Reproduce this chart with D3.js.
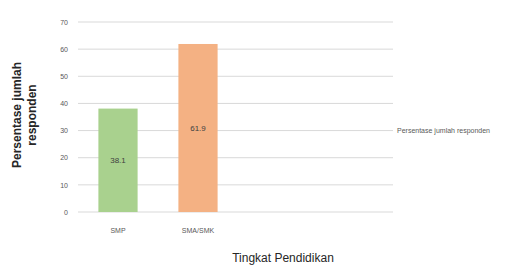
<!DOCTYPE html>
<html><head><meta charset="utf-8">
<script src="https://cdn.jsdelivr.net/npm/d3@7"></script>
<style>body{margin:0;background:#fff}</style>
</head><body>
<svg id="c" width="515" height="271"></svg>
<script>
const categories = ["SMP", "SMA/SMK"];
const values = [38.1, 61.9];
const yTicks = [0, 10, 20, 30, 40, 50, 60, 70];
const barColors = ["#a9d18e", "#f4b183"];
const legendLabel = "Persentase jumlah responden";

const svg = d3.select("#c");
const font = "Liberation Sans, Arial, sans-serif";
const x = d3.scaleBand().domain(categories).range([78, 238]).paddingInner(0.51).paddingOuter(0.255);
const y = d3.scaleLinear().domain([0, 70]).range([212, 22]);

svg.append("g").selectAll("line").data(yTicks).join("line")
  .attr("x1", 78).attr("x2", 393)
  .attr("y1", d => y(d)).attr("y2", d => y(d))
  .attr("stroke", "#d9d9d9").attr("stroke-width", 1);

const yAxis = svg.append("g").attr("transform", "translate(70,0)")
  .call(d3.axisLeft(y).tickValues(yTicks).tickSize(0).tickPadding(2));
yAxis.select(".domain").remove();
yAxis.selectAll("text").attr("font-family", font).attr("font-size", 7).attr("fill", "#595959");

svg.append("g").selectAll("rect").data(categories).join("rect")
  .attr("x", d => x(d)).attr("width", x.bandwidth())
  .attr("y", (d, i) => y(values[i])).attr("height", (d, i) => y(0) - y(values[i]))
  .attr("fill", (d, i) => barColors[i]);

svg.append("g").selectAll("text").data(categories).join("text")
  .attr("x", d => x(d) + x.bandwidth() / 2)
  .attr("y", (d, i) => (y(values[i]) + y(0)) / 2 + 3)
  .attr("text-anchor", "middle").attr("font-family", font).attr("font-size", 8).attr("fill", "#404040")
  .text((d, i) => values[i].toFixed(1));

const xAxis = svg.append("g").attr("transform", "translate(0,212)")
  .call(d3.axisBottom(x).tickSize(0).tickPadding(16));
xAxis.select(".domain").remove();
xAxis.selectAll("text").attr("font-family", font).attr("font-size", 7).attr("fill", "#595959");

svg.append("text").attr("x", 283).attr("y", 262).attr("text-anchor", "middle")
  .attr("font-family", font).attr("font-size", 12).attr("fill", "#262626").text("Tingkat Pendidikan");

const yt = svg.append("text").attr("transform", "translate(21,115) rotate(-90)")
  .attr("text-anchor", "middle").attr("font-family", font).attr("font-size", 12)
  .attr("font-weight", "bold").attr("fill", "#262626");
yt.append("tspan").attr("x", 0).attr("dy", 0).text("Persentase jumlah");
yt.append("tspan").attr("x", 0).attr("dy", 15).text("responden");

svg.append("text").attr("x", 397).attr("y", 133).attr("font-family", font).attr("font-size", 7)
  .attr("fill", "#595959").text(legendLabel);
</script>
</body></html>
